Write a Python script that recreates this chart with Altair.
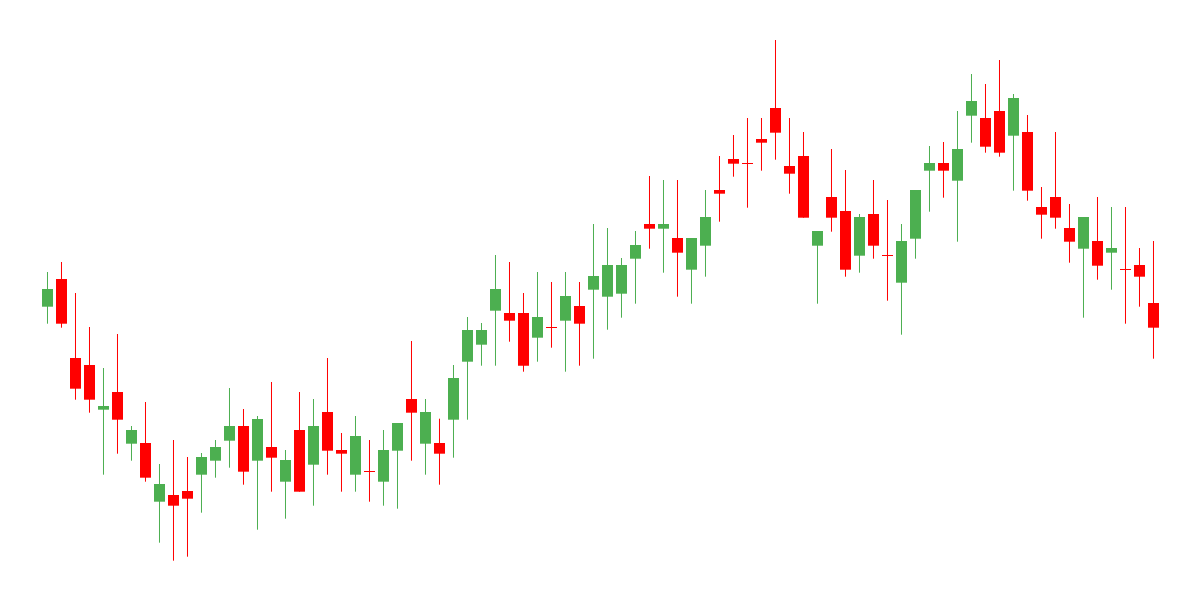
import altair as alt
import pandas as pd

opens = [293.3, 321, 242, 235, 190.3, 208, 156.3, 157, 98.3, 105,
         109, 125.3, 139.3, 159.3, 174, 139.3, 153, 118.3, 170, 135.3,
         188, 150, 125.3, 128.5, 118.3, 149.3, 201, 156.3, 157, 180.3,
         238.3, 255.3, 289.3, 287, 287, 262.3, 272.5, 279.3, 294, 310.3,
         303.3, 306.3, 341.3, 376, 371.3, 362, 330.3, 354.3, 410, 441,
         436.5, 461, 492, 434, 444, 354.3, 403, 389, 344.3, 386,
         344.5, 317.3, 361.3, 429.3, 437, 419.3, 484.3, 482, 489, 464.3,
         468, 393, 403, 372, 351.3, 359, 347.3, 330.5, 335, 297]
highs = [328, 338, 307, 273, 232, 266, 174, 198, 136, 160,
         143, 147, 160, 212, 191, 184, 218, 150, 208, 201,
         242, 167, 184, 160, 170, 177, 259, 201, 181.3, 235,
         283, 277, 345, 338, 307, 328, 318, 328, 318, 376,
         372, 342, 369, 424, 420, 420, 362, 410, 444, 465,
         482, 482, 560, 482, 468, 369, 451, 430, 386, 420,
         400, 376, 410, 454, 458, 489, 526, 516, 540, 506,
         485, 413, 468, 396, 383, 403, 393, 393, 352, 359]
lows = [276.3, 272.3, 200.3, 187.3, 125.3, 146.3, 139.3, 118.3, 57.3, 39.3,
        43.3, 87.3, 122.3, 132.3, 115.3, 70.3, 108.3, 81.3, 108.3, 94.3,
        125.3, 108.3, 108.3, 98.3, 94.3, 91.3, 139.3, 125.3, 115.3, 142.3,
        180.3, 234.3, 234.3, 258.3, 228.3, 238.3, 252.3, 228.3, 234.3, 241.3,
        270.3, 282.3, 296.3, 351.3, 327.3, 303.3, 296.3, 323.3, 378.3, 423.3,
        392.3, 429.3, 440.3, 406.3, 382.3, 296.3, 368.3, 323.3, 327.3, 341.3,
        299.3, 265.3, 341.3, 388.3, 402.3, 358.3, 457.3, 447.3, 443.3, 409.3,
        399.3, 361.3, 371.3, 337.3, 282.3, 320.3, 310.3, 276.3, 293.3, 241.3]
closes = [311, 276.3, 211.3, 200.3, 194, 180.3, 170, 122.3, 116, 94.3,
          101.3, 143, 153, 174, 128.3, 181, 142.3, 140, 108.3, 174,
          149.3, 146.3, 164, 128.5, 150, 177, 187.3, 188, 146.3, 222,
          270, 270, 311, 279.3, 234.3, 283, 272.5, 304, 276.3, 324,
          335, 335, 355, 371.3, 376, 347.3, 362, 383, 406.3, 436.3,
          436.5, 457.3, 467.3, 426.3, 382.3, 369, 382.3, 330.3, 383, 354.3,
          344.5, 359, 410, 437, 429.3, 451, 499, 453.3, 447.3, 502,
          409.3, 385.3, 382.3, 358.3, 383, 334.3, 352, 330.5, 323.3, 272.3]

df = pd.DataFrame({
    "i": list(range(len(opens))),
    "open": opens,
    "high": highs,
    "low": lows,
    "close": closes,
})
df["dir"] = ["up" if c > o else "down" for o, c in zip(opens, closes)]

xs = alt.Scale(domain=[-2.821, 81.75], nice=False, zero=False, padding=0)
ys = alt.Scale(domain=[8, 592], nice=False, zero=False, padding=0)
color = alt.Color("dir:N", scale=alt.Scale(domain=["up", "down"], range=["#4CAF50", "#FF0000"]), legend=None)

base = alt.Chart(df).encode(x=alt.X("i:Q", scale=xs, axis=None), color=color)

wick = base.mark_rule(strokeWidth=1, opacity=1).encode(
    y=alt.Y("low:Q", scale=ys, axis=None), y2="high:Q")
body = base.mark_bar(size=11, opacity=1).encode(
    y=alt.Y("open:Q", scale=ys, axis=None), y2="close:Q")
doji = base.transform_filter("datum.open == datum.close").mark_tick(
    size=11, thickness=1, orient="horizontal", opacity=1).encode(
    y=alt.Y("open:Q", scale=ys, axis=None))

chart = alt.layer(wick, body, doji).properties(
    width=1184, height=584, autosize=alt.AutoSizeParams(type="none"), padding=0,
    background="white"
).configure_view(stroke=None)

chart.save("out.html", embed_options={"renderer": "svg", "actions": False})
